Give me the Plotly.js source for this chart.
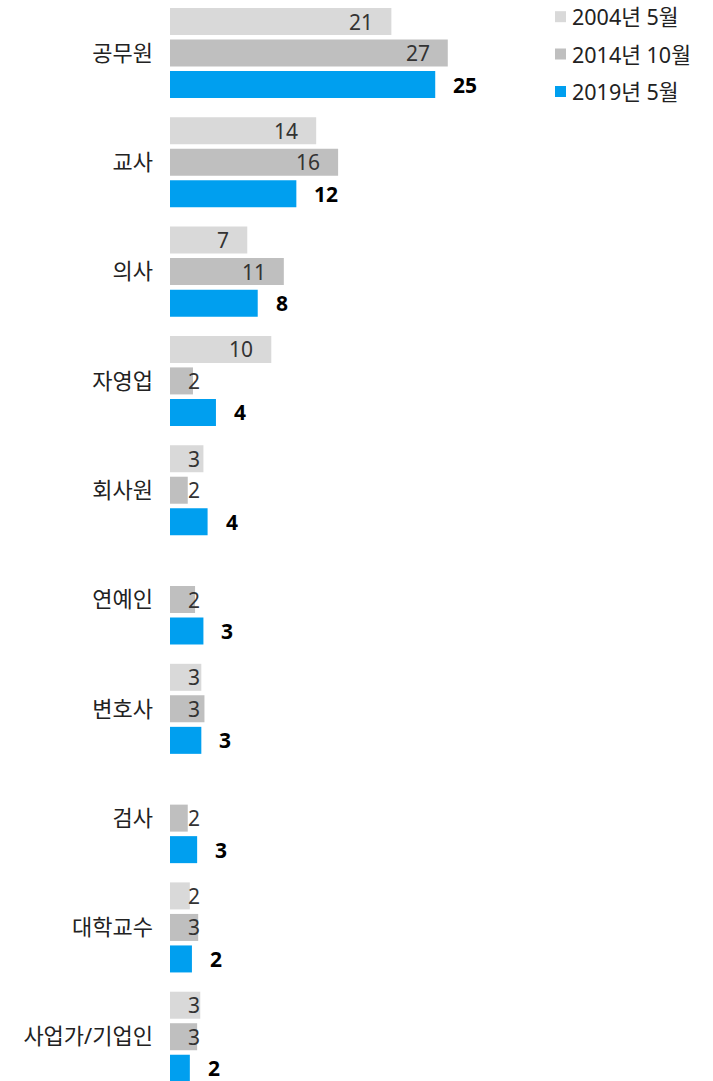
<!DOCTYPE html>
<html>
<head>
<meta charset="utf-8">
<script src="https://cdn.plot.ly/plotly-3.0.1.min.js"></script>
<style>
  html, body { margin: 0; padding: 0; background: #ffffff; }
  #chart { width: 713px; height: 1081px; }
</style>
</head>
<body>
<div id="chart"></div>
<script>
// ---- data ----
const categories = ['공무원', '교사', '의사', '자영업', '회사원', '연예인', '변호사', '검사', '대학교수', '사업가/기업인'];
const seriesNames = ['2004년 5월', '2014년 10월', '2019년 5월'];
const values2004 = [21.2, 14.0, 7.4, 9.7, 3.2, null, 3.0, null, 1.9, 2.9];
const values2014 = [26.6, 16.1, 10.9, 2.2, 1.7, 2.4, 3.3, 1.7, 2.7, 2.6];
const values2019 = [25.4, 12.1, 8.4, 4.4, 3.6, 3.2, 3.0, 2.6, 2.1, 1.9];
const seriesColors = ['#d9d9d9', '#bfbfbf', '#009fef'];

// ---- styling ----
const FONT = "'Noto Sans', 'Noto Sans CJK KR', sans-serif";
const allSeries = [values2004, values2014, values2019];
const xMax = 52;
const yRange = [9.405, -0.485];
const slotPx = 31.5;              // vertical distance between bars within a group
const yShifts = [slotPx, 0, -slotPx];
const insideThreshold = 5;        // grey labels sit inside the bar end when the bar is long enough

const traces = allSeries.map((vals, i) => ({
  type: 'bar',
  orientation: 'h',
  name: seriesNames[i],
  y: categories,
  x: vals,
  marker: { color: seriesColors[i], line: { width: 0 } },
  hoverinfo: 'skip',
  showlegend: false
}));

const annotations = [];
allSeries.forEach((vals, i) => {
  vals.forEach((v, j) => {
    if (v === null || v === undefined) return;
    const label = String(Math.round(v));
    if (i === 2) {
      annotations.push({
        x: v, y: categories[j], xref: 'x', yref: 'y',
        text: '<b>' + label + '</b>', showarrow: false,
        xanchor: 'left', yanchor: 'middle', xshift: 16, yshift: yShifts[i],
        font: { family: FONT, size: 21, color: '#000000' }
      });
    } else {
      const inside = v >= insideThreshold;
      annotations.push({
        x: inside ? v : 0, y: categories[j], xref: 'x', yref: 'y',
        text: label, showarrow: false,
        xanchor: inside ? 'right' : 'left', yanchor: 'middle',
        xshift: inside ? -16 : 16, yshift: yShifts[i],
        font: { family: FONT, size: 21, color: '#333333' }
      });
    }
  });
});

// legend (drawn as squares + text, top right)
const H = 1081, plotLeft = 170, plotW = 543;
const legendY = [16.7, 54, 91.5];
const shapes = [];
seriesNames.forEach((name, i) => {
  const cy = legendY[i];
  shapes.push({
    type: 'rect', xref: 'paper', yref: 'paper',
    x0: (555 - plotLeft) / plotW, x1: (566 - plotLeft) / plotW,
    y0: 1 - (cy + 5.5) / H, y1: 1 - (cy - 5.5) / H,
    fillcolor: seriesColors[i], line: { width: 0 }
  });
  annotations.push({
    x: (570 - plotLeft) / plotW, y: 1 - cy / H, xref: 'paper', yref: 'paper',
    text: name, showarrow: false, xanchor: 'left', yanchor: 'middle',
    font: { family: FONT, size: 21.5, color: '#222222' }
  });
});

const layout = {
  width: 713,
  height: 1081,
  margin: { l: plotLeft, r: 0, t: 0, b: 0, pad: 0 },
  paper_bgcolor: '#ffffff',
  plot_bgcolor: '#ffffff',
  barmode: 'group',
  bargap: 0.135,
  bargroupgap: 0.143,
  font: { family: FONT, size: 20, color: '#222222' },
  xaxis: {
    range: [0, xMax], showgrid: false, zeroline: false, showticklabels: false,
    ticks: '', showline: false, fixedrange: true
  },
  yaxis: {
    type: 'category', categoryorder: 'array', categoryarray: categories,
    range: yRange, showgrid: false, zeroline: false, showline: false,
    ticks: '', ticklabelstandoff: 16, automargin: false,
    tickfont: { family: FONT, size: 22, color: '#222222' }, fixedrange: true
  },
  shapes: shapes,
  annotations: annotations,
  showlegend: false
};

Plotly.newPlot('chart', traces, layout, { displayModeBar: false, staticPlot: true });
</script>
</body>
</html>
